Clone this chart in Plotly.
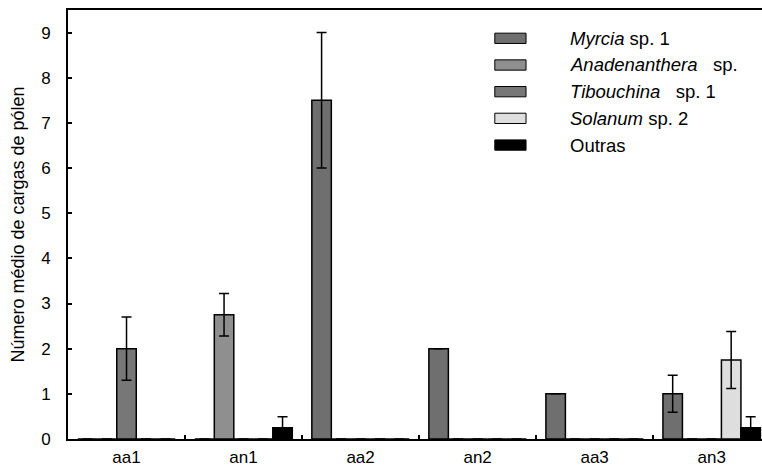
import plotly.graph_objects as go

# Mean number of pollen loads per sample group
categories = ["aa1", "an1", "aa2", "an2", "aa3", "an3"]

series_names = ["Myrcia", "Anadenanthera", "Tibouchina", "Solanum", "Outras"]
series_suffix = [" sp. 1", "\u00a0\u00a0\u00a0sp.", "\u00a0\u00a0\u00a0sp. 1", " sp. 2", ""]
series_italic = [True, True, True, True, False]
series_colors = ["#6f6f6f", "#8f8f8f", "#777777", "#dedede", "#000000"]

myrcia = [0, 0, 7.5, 2, 1, 1]
myrcia_err = [None, None, 1.5, None, None, 0.41]
anadenanthera = [0, 2.75, 0, 0, 0, 0]
anadenanthera_err = [None, 0.47, None, None, None, None]
tibouchina = [2, 0, 0, 0, 0, 0]
tibouchina_err = [0.7, None, None, None, None, None]
solanum = [0, 0, 0, 0, 0, 1.75]
solanum_err = [None, None, None, None, None, 0.63]
outras = [0, 0.25, 0, 0, 0, 0.25]
outras_err = [None, 0.24, None, None, None, 0.24]

values = [myrcia, anadenanthera, tibouchina, solanum, outras]
errors = [myrcia_err, anadenanthera_err, tibouchina_err, solanum_err, outras_err]

y_ticks = list(range(0, 10))

FONT = "Liberation Sans, Arial, sans-serif"

fig = go.Figure()
for name, vals, errs, color in zip(series_names, values, errors, series_colors):
    fig.add_trace(go.Bar(
        x=categories, y=vals, name=name, showlegend=False,
        marker=dict(color=color, line=dict(color="#000000", width=1.5)),
        error_y=dict(type="data", array=errs, visible=True,
                     color="#000000", thickness=1.5, width=5),
    ))

# Legend drawn as swatches and text on the right of the plot
legend_top = 0.934
legend_step = 0.0622
for i, (name, suffix, italic, color) in enumerate(
        zip(series_names, series_suffix, series_italic, series_colors)):
    yc = legend_top - i * legend_step
    fig.add_shape(type="rect", xref="paper", yref="paper",
                  x0=0.615, x1=0.66, y0=yc - 0.012, y1=yc + 0.012,
                  fillcolor=color, line=dict(color="#000000", width=1))
    label = f"<i>{name}</i>{suffix}" if italic else f"{name}{suffix}"
    fig.add_annotation(x=0.72, y=yc, xref="paper", yref="paper",
                       text=label, showarrow=False, xanchor="left", yanchor="middle",
                       font=dict(family=FONT, size=18.5, color="#000000"))

fig.update_layout(
    width=762, height=471,
    margin=dict(l=68, r=0, t=10, b=32),
    paper_bgcolor="#ffffff", plot_bgcolor="#ffffff",
    barmode="group", bargap=0.167, bargroupgap=0,
    font=dict(family=FONT, size=17, color="#000000"),
)
fig.update_xaxes(
    type="category", range=[-0.5, 5.43],
    showline=True, linecolor="#000000", linewidth=2, mirror=True,
    ticks="inside", tickson="boundaries", ticklen=4, tickcolor="#000000", tickwidth=1.5,
    showgrid=False, zeroline=False,
    tickfont=dict(family=FONT, size=17, color="#000000"),
    ticklabelstandoff=2,
)
fig.update_yaxes(
    range=[0, 9.5], tickvals=y_ticks,
    showline=True, linecolor="#000000", linewidth=2, mirror=False,
    ticks="inside", ticklen=4, tickcolor="#000000", tickwidth=1.5,
    showgrid=False, zeroline=False,
    tickfont=dict(family=FONT, size=17, color="#000000"),
    ticklabelstandoff=12,
    title=dict(text="Número médio de cargas de pólen",
               font=dict(family=FONT, size=18, color="#000000"), standoff=12),
)

fig.write_html("out.html")
